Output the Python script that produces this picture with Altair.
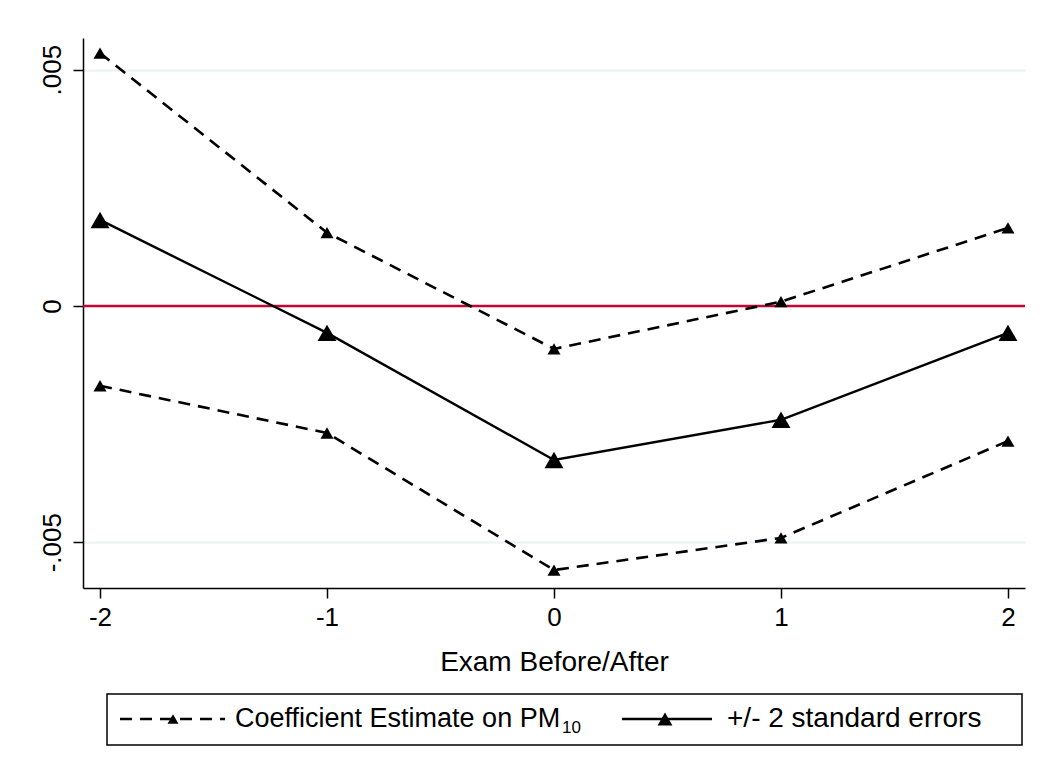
import altair as alt
import pandas as pd

event = [-2, -1, 0, 1, 2]
upper = [0.00535, 0.00155, -0.00091, 0.00009, 0.00165]
coef = [0.00182, -0.00057, -0.00326, -0.00241, -0.00057]
lower = [-0.00169, -0.00269, -0.00559, -0.00491, -0.00286]

x_ticks = [-2, -1, 0, 1, 2]
y_ticks = [-0.005, 0, 0.005]

FONT = "Liberation Sans"
FS = 26

dashed = pd.DataFrame(
    {"event": event * 2, "value": upper + lower, "series": ["upper"] * 5 + ["lower"] * 5}
)
solid = pd.DataFrame({"event": event, "value": coef})

xs = alt.Scale(domain=[-2.075, 2.075], nice=False, zero=False)
ys = alt.Scale(domain=[-0.00597, 0.00567], nice=False, zero=False)

xaxis = alt.Axis(
    values=x_ticks, labelExpr="'' + datum.value", title="Exam Before/After",
    grid=False, tickSize=10, labelPadding=6, titleFontSize=28, titleFontWeight="normal",
    titleY=74, titleBaseline="middle", titleFont=FONT,
)
yaxis = alt.Axis(
    values=y_ticks,
    labelExpr="datum.value == 0 ? '0' : (datum.value > 0 ? '.005' : '-.005')",
    title=None, grid=True, gridColor="#EAF2F3", gridWidth=2, tickSize=10,
    labelAngle=270, labelAlign="center", labelBaseline="bottom", labelPadding=8,
)

X = alt.X("event:Q", scale=xs, axis=xaxis)
Y = alt.Y("value:Q", scale=ys, axis=yaxis)

zero = alt.Chart(pd.DataFrame({"z": [0]})).mark_rule(color="#C10534", strokeWidth=2.5).encode(
    y=alt.Y("z:Q", scale=ys, axis=yaxis)
)

dash_line = alt.Chart(dashed).mark_line(
    color="black", strokeWidth=2.6, strokeDash=[12, 8]
).encode(x=X, y=Y, detail="series:N")
dash_pts = alt.Chart(dashed).mark_point(
    shape="triangle-up", filled=True, color="black", size=170, opacity=1
).encode(x=X, y=Y)

solid_line = alt.Chart(solid).mark_line(color="black", strokeWidth=2.4).encode(x=X, y=Y)
solid_pts = alt.Chart(solid).mark_point(
    shape="triangle-up", filled=True, color="black", size=360, opacity=1
).encode(x=X, y=Y)

# legend (decoration)
one = pd.DataFrame({"a": [0]})
leg_box = alt.Chart(one).mark_rect(fill="white", stroke="black", strokeWidth=1.5).encode(
    x=alt.value(24), x2=alt.value(939), y=alt.value(656), y2=alt.value(707)
)
leg_dash = alt.Chart(one).mark_rule(color="black", strokeWidth=2.6, strokeDash=[12, 8]).encode(
    x=alt.value(37), x2=alt.value(142), y=alt.value(681)
)
leg_dash_pt = alt.Chart(one).mark_point(
    shape="triangle-up", filled=True, color="black", size=120, opacity=1
).encode(x=alt.value(90), y=alt.value(681))
leg_solid = alt.Chart(one).mark_rule(color="black", strokeWidth=2.4).encode(
    x=alt.value(539), x2=alt.value(629), y=alt.value(681)
)
leg_solid_pt = alt.Chart(one).mark_point(
    shape="triangle-up", filled=True, color="black", size=220, opacity=1
).encode(x=alt.value(582), y=alt.value(681))
leg_t1 = alt.Chart(one).mark_text(
    text="Coefficient Estimate on PM", align="left", baseline="middle", font=FONT, fontSize=27
).encode(x=alt.value(152), y=alt.value(681))
leg_sub = alt.Chart(one).mark_text(
    text="10", align="left", baseline="middle", font=FONT, fontSize=17
).encode(x=alt.value(479), y=alt.value(690))
leg_t2 = alt.Chart(one).mark_text(
    text="+/- 2 standard errors", align="left", baseline="middle", font=FONT, fontSize=28
).encode(x=alt.value(644), y=alt.value(681))

chart = alt.layer(
    zero, dash_line, solid_line, dash_pts, solid_pts,
    leg_box, leg_dash, leg_dash_pt, leg_solid, leg_solid_pt, leg_t1, leg_sub, leg_t2,
).properties(
    width=942, height=550,
    autosize=alt.AutoSizeParams(type="none"),
    padding={"left": 75, "top": 30, "right": 7, "bottom": 170},
    background="white",
).configure_view(stroke=None).configure_axis(
    domainColor="black", domainWidth=1.5, tickColor="black", tickWidth=1.5,
    labelColor="black", labelFont=FONT, labelFontSize=FS, titleColor="black",
)

chart.save("out.html", embed_options={"renderer": "svg", "actions": False})
